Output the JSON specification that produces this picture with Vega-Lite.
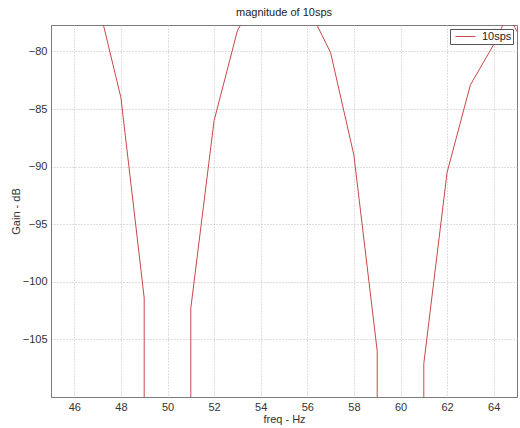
{
  "$schema": "https://vega.github.io/schema/vega-lite/v6.json",
  "autosize": {"type": "none"},
  "width": 466,
  "height": 372,
  "padding": {"left": 51, "top": 25, "right": 3, "bottom": 31},
  "background": "white",
  "config": {
    "font": "Liberation Sans",
    "view": {"stroke": "#7a7a7a", "strokeWidth": 1},
    "axis": {
      "labelFont": "Liberation Sans",
      "labelFontSize": 11,
      "labelColor": "#333333",
      "titleFont": "Liberation Sans",
      "titleFontSize": 11,
      "titleFontWeight": "normal",
      "titleColor": "#333333",
      "domainColor": "#7a7a7a",
      "ticks": false,
      "gridColor": "#bdbdbd",
      "gridDash": [1, 2],
      "gridWidth": 1
    }
  },
  "title": {"text": "magnitude of 10sps", "fontSize": 11, "fontWeight": "normal", "font": "Liberation Sans", "color": "#222222", "offset": 7},
  "data": {
    "values": [
      {"freq": 47, "gain": -75.6, "s": "10sps", "seg": 1},
      {"freq": 48, "gain": -84.0, "s": "10sps", "seg": 1},
      {"freq": 49, "gain": -101.4, "s": "10sps", "seg": 1},
      {"freq": 49, "gain": -120, "s": "10sps", "seg": 1},
      {"freq": 51, "gain": -120, "s": "10sps", "seg": 2},
      {"freq": 51, "gain": -102.3, "s": "10sps", "seg": 2},
      {"freq": 52, "gain": -86.0, "s": "10sps", "seg": 2},
      {"freq": 53, "gain": -78.2, "s": "10sps", "seg": 2},
      {"freq": 54, "gain": -74.5, "s": "10sps", "seg": 2},
      {"freq": 56, "gain": -76.0, "s": "10sps", "seg": 3},
      {"freq": 57, "gain": -80.1, "s": "10sps", "seg": 3},
      {"freq": 58, "gain": -89.0, "s": "10sps", "seg": 3},
      {"freq": 59, "gain": -106.0, "s": "10sps", "seg": 3},
      {"freq": 59, "gain": -120, "s": "10sps", "seg": 3},
      {"freq": 61, "gain": -120, "s": "10sps", "seg": 4},
      {"freq": 61, "gain": -107.1, "s": "10sps", "seg": 4},
      {"freq": 62, "gain": -90.5, "s": "10sps", "seg": 4},
      {"freq": 63, "gain": -82.9, "s": "10sps", "seg": 4},
      {"freq": 64, "gain": -79.4, "s": "10sps", "seg": 4},
      {"freq": 64.6, "gain": -76.8, "s": "10sps", "seg": 4},
      {"freq": 65.1, "gain": -78.6, "s": "10sps", "seg": 4}
    ]
  },
  "mark": {"type": "line", "clip": true, "strokeWidth": 1, "interpolate": "linear"},
  "encoding": {
    "x": {
      "field": "freq", "type": "quantitative",
      "scale": {"domain": [45, 65], "nice": false, "zero": false},
      "axis": {"title": "freq - Hz", "values": [46, 48, 50, 52, 54, 56, 58, 60, 62, 64], "titlePadding": 1, "labelPadding": 4}
    },
    "y": {
      "field": "gain", "type": "quantitative",
      "scale": {"domain": [-110, -77.7], "nice": false, "zero": false},
      "axis": {"title": "Gain - dB", "values": [-105, -100, -95, -90, -85, -80], "titlePadding": 1, "labelPadding": 4}
    },
    "detail": {"field": "seg"},
    "order": {"field": "seg"},
    "color": {
      "field": "s", "type": "nominal",
      "scale": {"range": ["#c94848"]},
      "legend": {
        "title": null,
        "orient": "top-right",
        "offset": 4,
        "fillColor": "white",
        "strokeColor": "#555555",
        "padding": 1,
        "clipHeight": 13,
        "symbolType": "stroke",
        "symbolSize": 400,
        "symbolStrokeWidth": 1,
        "symbolOffset": 4,
        "labelOffset": 6,
        "labelFontSize": 11,
        "labelFont": "Liberation Sans",
        "labelColor": "#222222"
      }
    }
  }
}
